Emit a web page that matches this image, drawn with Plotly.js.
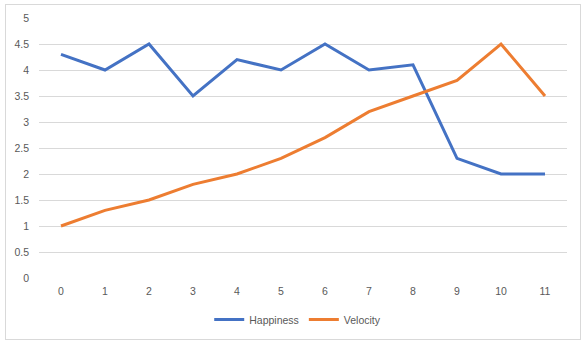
<!DOCTYPE html>
<html>
<head>
<meta charset="utf-8">
<script src="https://cdn.plot.ly/plotly-3.0.1.min.js"></script>
<style>
html,body{margin:0;padding:0;background:#fff;}
#wrap{position:relative;width:588px;height:345px;}
#chart{position:absolute;left:0;top:0;width:588px;height:345px;}
#frame{position:absolute;left:5px;top:4px;width:574px;height:334px;border:1px solid #d9d9d9;pointer-events:none;}
</style>
</head>
<body>
<div id="wrap"><div id="chart"></div><div id="frame"></div></div>
<script>
const categories = [0, 1, 2, 3, 4, 5, 6, 7, 8, 9, 10, 11];
const happiness = [4.3, 4.0, 4.5, 3.5, 4.2, 4.0, 4.5, 4.0, 4.1, 2.3, 2.0, 2.0];
const velocity = [1.0, 1.3, 1.5, 1.8, 2.0, 2.3, 2.7, 3.2, 3.5, 3.8, 4.5, 3.5];
const yTicks = [0, 0.5, 1, 1.5, 2, 2.5, 3, 3.5, 4, 4.5, 5];

const font = {family: "Liberation Sans, Arial, sans-serif", size: 10.5, color: "#595959"};

const traces = [
  {x: categories, y: happiness, name: "Happiness", type: "scatter", mode: "lines",
   line: {color: "#4472C4", width: 3, shape: "linear"}},
  {x: categories, y: velocity, name: "Velocity", type: "scatter", mode: "lines",
   line: {color: "#ED7D31", width: 3, shape: "linear"}}
];

const layout = {
  width: 588, height: 345,
  margin: {l: 39, r: 21, t: 18, b: 67, autoexpand: false},
  paper_bgcolor: "#ffffff", plot_bgcolor: "#ffffff",
  font: font,
  showlegend: true,
  legend: {orientation: "h", x: 0.49, xanchor: "center", y: -0.16, yanchor: "middle",
           font: font, itemwidth: 30, tracegroupgap: 0},
  xaxis: {range: [-0.5, 11.5], tickvals: categories, ticktext: categories.map(String),
          showgrid: false, zeroline: false, showline: false, ticks: "", ticklen: 0,
          ticklabelstandoff: 5, tickfont: font, fixedrange: true},
  yaxis: {range: [0, 5], tickvals: yTicks, ticktext: yTicks.map(String),
          showgrid: true, gridcolor: "#d9d9d9", gridwidth: 1, zeroline: false,
          showline: false, ticks: "", ticklabelstandoff: 9, tickfont: font, fixedrange: true}
};

Plotly.newPlot("chart", traces, layout, {displayModeBar: false, staticPlot: true});
</script>
</body>
</html>
